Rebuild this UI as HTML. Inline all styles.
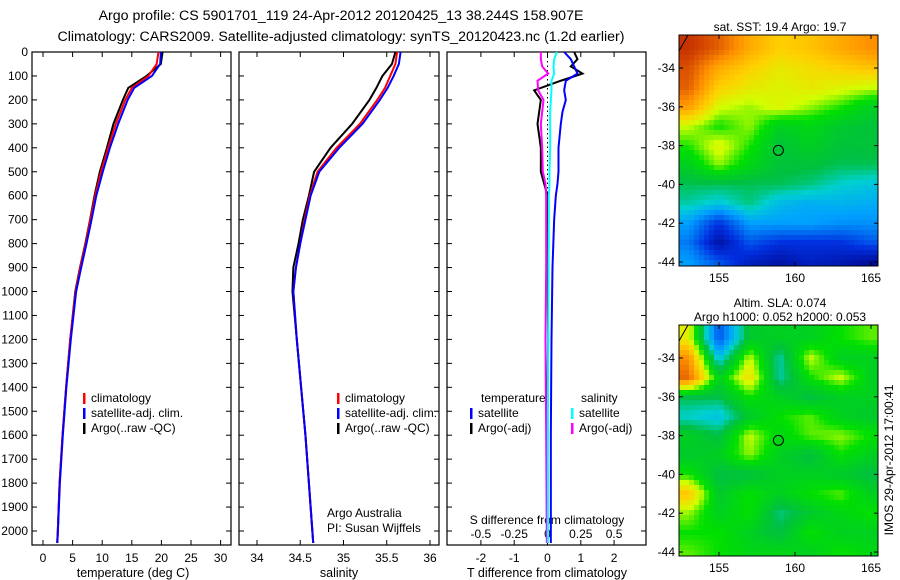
<!DOCTYPE html>
<html><head><meta charset="utf-8"><style>
html,body{margin:0;padding:0;background:#fff;}
svg{display:block;font-family:"Liberation Sans",sans-serif;}
</style></head><body>
<svg id="fig" width="900" height="580" viewBox="0 0 900 580">
<text x="341" y="20" font-size="14.2" text-anchor="middle">Argo profile: CS 5901701_119 24-Apr-2012 20120425_13 38.244S 158.907E</text>
<text x="341" y="41" font-size="14.2" text-anchor="middle">Climatology: CARS2009. Satellite-adjusted climatology: synTS_20120423.nc (1.2d earlier)</text>
<g id="g1"></g>
<g id="g2"></g>
<g id="g3"></g>
<g id="m1"></g>
<g id="m2"></g>
<text transform="translate(893,460) rotate(-90)" font-size="12" text-anchor="middle">IMOS 29-Apr-2012 17:00:41</text>
</svg>
<script>
const depths=[0,50,100,150,200,300,400,500,600,700,800,900,1000,1200,1400,1600,1800,2000,2050];
const tempClim=[19.5,19.2,17.8,15,13.9,12.3,11,9.8,8.8,8,7.2,6.3,5.5,4.6,3.9,3.3,2.8,2.5,2.4];
const tempSat=[19.9,19.8,18.4,15.4,14.3,12.7,11.3,10.1,9,8.2,7.35,6.45,5.6,4.7,3.95,3.35,2.85,2.52,2.42];
const tempArgo=[20.2,19.9,17.5,14.4,13.5,11.9,10.8,9.6,8.7,7.95,7.15,6.25,5.45,4.6,3.9,3.3,2.8,2.5,2.4];
const salClim=[35.62,35.6,35.54,35.48,35.39,35.19,34.92,34.7,34.61,34.55,34.5,34.45,34.42,34.46,34.51,34.56,34.6,34.64,34.65];
const salSat=[35.66,35.64,35.58,35.51,35.42,35.22,34.95,34.72,34.62,34.56,34.5,34.45,34.42,34.46,34.51,34.56,34.6,34.64,34.65];
const salArgo=[35.6,35.56,35.45,35.38,35.3,35.1,34.85,34.66,34.6,34.53,34.48,34.42,34.41,34.46,34.51,34.56,34.6,34.64,34.65];
const dDepths=[0,30,60,90,120,160,200,250,300,400,500,550,600,700,900,1200,1600,2050];
const dTsat=[0.5,0.7,0.8,0.9,0.55,0.5,0.55,0.45,0.4,0.33,0.33,0.3,0.25,0.2,0.15,0.12,0.1,0.1];
const dTargo=[0.8,0.9,0.7,1.05,0.4,-0.4,-0.2,-0.25,-0.3,-0.2,-0.2,-0.1,0,0,0,0.02,-0.02,0];
const dSsat=[0.07,0.05,0.045,0.05,0.03,0.03,0.025,0.02,0.02,0.02,0.015,0.015,0.01,0.01,0.008,0.005,0.003,0.003];
const dSargo=[-0.05,-0.05,-0.04,0.005,-0.075,-0.07,-0.03,-0.04,-0.05,-0.04,-0.035,-0.015,-0.01,-0.01,-0.01,-0.015,-0.01,-0.005];
const depthTicks=[0,100,200,300,400,500,600,700,800,900,1000,1100,1200,1300,1400,1500,1600,1700,1800,1900,2000];
const tTicks=[0,5,10,15,20,25,30];
const sTicks=[34,34.5,35,35.5,36];
const dTTicks=[-2,-1,0,1,2];
const dSTicks=[-0.5,-0.25,0,0.25,0.5];
const dSTickLabels=["-0.5","-0.25","0","0.25","0.5"];

const NS="http://www.w3.org/2000/svg";
function mk(p,t,a,txt){const e=document.createElementNS(NS,t);for(const k in a)e.setAttribute(k,a[k]);if(txt!==undefined)e.textContent=txt;p.appendChild(e);return e;}
const TOP=52,BOT=545;
const yD=d=>TOP+0.2395*d;
const xT=v=>43+5.92*v;
const xS=v=>257+86.5*(v-34);
const xDT=v=>547.5+33.3*v;
const xDS=v=>547.5+133.2*v;

function frame(g,x0,x1,withDepth){
  mk(g,'rect',{x:x0,y:TOP,width:x1-x0,height:BOT-TOP,fill:'none',stroke:'#000','stroke-width':1.2});
  depthTicks.forEach(d=>{const y=yD(d);
    mk(g,'line',{x1:x0,y1:y,x2:x0+5,y2:y,stroke:'#000'});
    mk(g,'line',{x1:x1-5,y1:y,x2:x1,y2:y,stroke:'#000'});
    if(withDepth){const t=mk(g,'text',{x:x0-4,y:y+4,'font-size':12,'text-anchor':'end'},String(d));
      }
  });
}
function xticks(g,vals,fx,labels,ly){
  vals.forEach((v,i)=>{const x=fx(v);
    mk(g,'line',{x1:x,y1:BOT,x2:x,y2:BOT-5,stroke:'#000'});
    mk(g,'line',{x1:x,y1:TOP,x2:x,y2:TOP+5,stroke:'#000'});
    const t=mk(g,'text',{x:x,y:ly,'font-size':12,'text-anchor':'middle'},labels?labels[i]:String(v));
    
  });
}
function step(g,ds,vs,fx,col,w,name){
  let pts=[];
  for(let i=0;i<ds.length;i++){pts.push(fx(vs[i])+','+yD(ds[i]));}
  const l=mk(g,'polyline',{points:pts.join(' '),fill:'none',stroke:col,'stroke-width':w,'stroke-linejoin':'miter'});
  
  
}
function legend(g,x,y,col,txt){
  mk(g,'rect',{x:x,y:y-9,width:2.5,height:11,fill:col});
  const t=mk(g,'text',{x:x+8,y:y,'font-size':12},txt);
  
}
const g1=document.getElementById('g1');
frame(g1,32,231,true);
xticks(g1,tTicks,xT,null,562);
mk(g1,'text',{x:133,y:577,'font-size':12.5,'text-anchor':'middle'},'temperature (deg C)');
step(g1,depths,tempArgo,xT,'#000',2,'temp-argo-line');
step(g1,depths,tempClim,xT,'#f00',2,'temp-climatology-line');
step(g1,depths,tempSat,xT,'#00f',2,'temp-satellite-line');
legend(g1,83,402,'#f00','climatology');legend(g1,83,417,'#00f','satellite-adj. clim.');legend(g1,83,432,'#000','Argo(..raw -QC)');
const g2=document.getElementById('g2');
frame(g2,239,439,false);
xticks(g2,sTicks,xS,null,562);
mk(g2,'text',{x:339,y:577,'font-size':12.5,'text-anchor':'middle'},'salinity');
step(g2,depths,salArgo,xS,'#000',2,'sal-argo-line');
step(g2,depths,salClim,xS,'#f00',2,'sal-climatology-line');
step(g2,depths,salSat,xS,'#00f',2,'sal-satellite-line');
legend(g2,337,402,'#f00','climatology');legend(g2,337,417,'#00f','satellite-adj. clim.');legend(g2,337,432,'#000','Argo(..raw -QC)');
mk(g2,'text',{x:327,y:517,'font-size':12},'Argo Australia');
mk(g2,'text',{x:327,y:532,'font-size':12},'PI: Susan Wijffels');
const g3=document.getElementById('g3');
frame(g3,447,646,false);
dTTicks.forEach(v=>{const x=xDT(v);mk(g3,'line',{x1:x,y1:BOT,x2:x,y2:BOT-5,stroke:'#000'});mk(g3,'line',{x1:x,y1:TOP,x2:x,y2:TOP+5,stroke:'#000'});
  const t=mk(g3,'text',{x:x,y:562,'font-size':12,'text-anchor':'middle'},String(v));});
dSTicks.forEach((v,i)=>{const t=mk(g3,'text',{x:xDS(v),y:538,'font-size':12,'text-anchor':'middle'},dSTickLabels[i]);});
mk(g3,'text',{x:547,y:524,'font-size':12,'text-anchor':'middle'},'S difference from climatology');
mk(g3,'text',{x:547,y:577,'font-size':12.5,'text-anchor':'middle'},'T difference from climatology');
mk(g3,'line',{x1:xDT(0),y1:TOP,x2:xDT(0),y2:yD(650),stroke:'#000','stroke-dasharray':'1.5,3'});
step(g3,dDepths,dTargo,xDT,'#000',2,'t-diff-argo-line');
step(g3,dDepths,dSargo,xDS,'#f0f',2,'s-diff-argo-line');
step(g3,dDepths,dTsat,xDT,'#00f',2,'t-diff-satellite-line');
step(g3,dDepths,dSsat,xDS,'#0ff',2,'s-diff-satellite-line');
mk(g3,'text',{x:481,y:402,'font-size':12},'temperature');
mk(g3,'text',{x:581,y:402,'font-size':12},'salinity');
legend(g3,470,417,'#00f','satellite');legend(g3,470,432,'#000','Argo(-adj)');
legend(g3,571,417,'#0ff','satellite');legend(g3,571,432,'#f0f','Argo(-adj)');

const sstGrid=[
[0.92,0.86,0.76,0.7,0.72,0.76,0.8],
[0.88,0.76,0.7,0.66,0.68,0.7,0.72],
[0.86,0.7,0.66,0.64,0.66,0.64,0.62],
[0.78,0.63,0.6,0.64,0.6,0.56,0.5],
[0.62,0.55,0.6,0.5,0.52,0.48,0.46],
[0.56,0.64,0.56,0.46,0.5,0.46,0.46],
[0.5,0.6,0.52,0.46,0.46,0.44,0.44],
[0.44,0.44,0.44,0.44,0.42,0.38,0.36],
[0.4,0.36,0.42,0.34,0.32,0.33,0.32],
[0.3,0.15,0.3,0.3,0.3,0.28,0.28],
[0.25,0.06,0.2,0.15,0.15,0.15,0.2],
[0.3,0.2,0.1,0.06,0.1,0.08,0.04]];
const slaGrid=[
[0.65,0.2,0.48,0.5,0.5,0.55,0.58],
[0.8,0.35,0.62,0.4,0.62,0.5,0.5],
[0.85,0.5,0.68,0.4,0.55,0.62,0.5],
[0.45,0.45,0.55,0.5,0.45,0.5,0.5],
[0.38,0.35,0.48,0.55,0.58,0.5,0.48],
[0.5,0.45,0.62,0.52,0.58,0.6,0.55],
[0.48,0.5,0.6,0.5,0.45,0.55,0.5],
[0.55,0.45,0.45,0.5,0.5,0.48,0.45],
[0.72,0.48,0.55,0.5,0.55,0.58,0.5],
[0.6,0.5,0.55,0.42,0.48,0.52,0.55],
[0.55,0.55,0.5,0.45,0.55,0.5,0.5],
[0.58,0.55,0.52,0.52,0.5,0.55,0.52]];
const latTicks=[-34,-36,-38,-40,-42,-44];
const lonTicks=[155,160,165];
const cmap=[[0,[0,0,128]],[0.15,[0,48,224]],[0.3,[0,160,255]],[0.38,[0,208,208]],[0.45,[0,192,64]],[0.55,[0,224,0]],[0.62,[208,255,0]],[0.7,[255,208,0]],[0.8,[255,144,0]],[0.9,[208,64,0]],[1,[160,0,0]]];
function col(v){v=Math.max(0,Math.min(1,v));for(let i=1;i<cmap.length;i++){if(v<=cmap[i][0]){const a=cmap[i-1],b=cmap[i],f=(v-a[0])/(b[0]-a[0]);return 'rgb('+a[1].map((c,k)=>Math.round(c+(b[1][k]-c)*f)).join(',')+')';}}return 'rgb(160,0,0)';}
function interp(grid,lon,lat){
  let fi=(lon-153)/2, fj=(-33-lat);
  fi=Math.max(0,Math.min(6,fi));fj=Math.max(0,Math.min(11,fj));
  const i0=Math.min(5,Math.floor(fi)),j0=Math.min(10,Math.floor(fj));const a=fi-i0,b=fj-j0;
  return grid[j0][i0]*(1-a)*(1-b)+grid[j0][i0+1]*a*(1-b)+grid[j0+1][i0]*(1-a)*b+grid[j0+1][i0+1]*a*b;
}
function map(id,grid,y0,cell,titles){
  const g=document.getElementById(id);const x0=679,x1=878,y1=y0+231;
  const lx=lon=>719+15.2*(lon-155), ly=lat=>y0+33+19.4*(-34-lat);
  for(let y=y0;y<y1;y+=cell)for(let x=x0;x<x1;x+=cell){
    const lon=155+(x+cell/2-719)/15.2, lat=-34-(y+cell/2-y0-33)/19.4;
    mk(g,'rect',{x:x,y:y,width:Math.min(cell,x1-x)+0.3,height:Math.min(cell,y1-y)+0.3,fill:col(interp(grid,lon,lat))});
  }
  mk(g,'rect',{x:x0,y:y0,width:x1-x0,height:y1-y0,fill:'none',stroke:'#000'});
  latTicks.forEach(l=>{const y=ly(l);mk(g,'line',{x1:x0,y1:y,x2:x0+4,y2:y,stroke:'#000'});mk(g,'line',{x1:x1-4,y1:y,x2:x1,y2:y,stroke:'#000'});
    const t=mk(g,'text',{x:x0-4,y:y+4,'font-size':12,'text-anchor':'end'},String(l));});
  lonTicks.forEach(l=>{const x=lx(l);mk(g,'line',{x1:x,y1:y1,x2:x,y2:y1-4,stroke:'#000'});mk(g,'line',{x1:x,y1:y0,x2:x,y2:y0+4,stroke:'#000'});
    const t=mk(g,'text',{x:x,y:y1+16,'font-size':12,'text-anchor':'middle'},String(l));});
  const c=mk(g,'circle',{cx:lx(158.907),cy:ly(-38.244),r:5,fill:'none',stroke:'#000'});
  
  mk(g,'path',{d:`M${x0} ${y0+16} L${x0+9} ${y0}`,stroke:'#000',fill:'none'});
  titles.forEach((t,i)=>{const e=mk(g,'text',{x:780,y:y0-(titles.length-i)*14+10,'font-size':12,'text-anchor':'middle'},t);});
}
map('m1',sstGrid,35,5,['sat. SST: 19.4 Argo: 19.7']);
map('m2',slaGrid,325,5,['Altim. SLA: 0.074','Argo h1000: 0.052 h2000: 0.053']);
</script>
</body></html>
